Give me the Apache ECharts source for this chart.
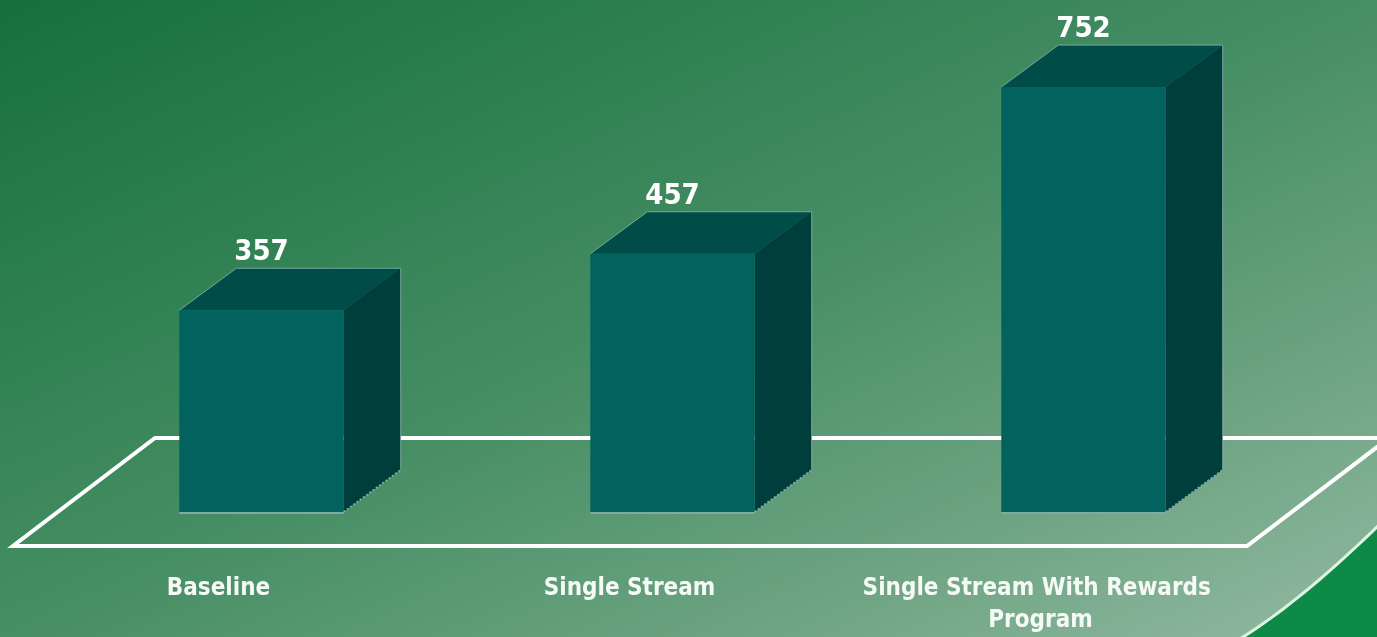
<!DOCTYPE html>
<html>
<head>
<meta charset="utf-8">
<script src="https://cdn.jsdelivr.net/npm/echarts@6/dist/echarts.min.js"></script>
<style>
  html, body { margin: 0; padding: 0; }
  #main { width: 1377px; height: 637px; }
</style>
</head>
<body>
<div id="main"></div>
<script>
var categories = ['Baseline', 'Single Stream', 'Single Stream With Rewards Program'];
var values = [357, 457, 752];

// box look
var FRONT_DX = 43, FRONT_DY = -33;   // front face sits behind the floor's front edge
var DEPTH_X = 57, DEPTH_Y = 42;      // depth of the 3D box
var FONT = '"DejaVu Sans Condensed", "Liberation Sans Narrow", sans-serif';

var myChart = echarts.init(document.getElementById('main'));

// bright corner swoosh, bottom right
var swoosh = [];
for (var k = 0; k <= 20; k++) {
  var t = k / 20;
  swoosh.push([
    (1 - t) * (1 - t) * 1238 + 2 * t * (1 - t) * 1299 + t * t * 1380,
    (1 - t) * (1 - t) * 640 + 2 * t * (1 - t) * 603 + t * t * 524
  ]);
}

function renderBox(params, api) {
  var b = api.coord([api.value(0), 0]);
  var t = api.coord([api.value(0), api.value(1)]);
  var w = api.size([1, 0])[0] * 0.4;
  var cx = b[0] + FRONT_DX;
  var x0 = cx - w / 2, x1 = cx + w / 2;
  var yb = b[1] + FRONT_DY, yt = t[1] + FRONT_DY;
  var edge = 'rgba(150,185,185,0.75)';
  return {
    type: 'group',
    children: [
      { type: 'polygon', shape: { points: [[x0, yt], [x0 + DEPTH_X, yt - DEPTH_Y], [x1 + DEPTH_X, yt - DEPTH_Y], [x1, yt]] },
        style: { fill: '#004c49' } },
      { type: 'polygon', shape: { points: [[x1, yt], [x1 + DEPTH_X, yt - DEPTH_Y], [x1 + DEPTH_X, yb - DEPTH_Y], [x1, yb]] },
        style: { fill: '#003e3c' } },
      { type: 'rect', shape: { x: x0, y: yt, width: w, height: yb - yt },
        style: { fill: '#01625e' } },
      { type: 'polyline', shape: { points: [[x0, yt], [x0 + DEPTH_X, yt - DEPTH_Y], [x1 + DEPTH_X, yt - DEPTH_Y], [x1 + DEPTH_X, yb - DEPTH_Y]] },
        style: { stroke: edge, lineWidth: 1, fill: null } },
      { type: 'line', shape: { x1: x0, y1: yb + 1, x2: x1, y2: yb + 1 },
        style: { stroke: '#80aaa8', lineWidth: 2 } },
      { type: 'line', shape: { x1: x1, y1: yb, x2: x1 + DEPTH_X, y2: yb - DEPTH_Y },
        style: { stroke: '#80aaa8', lineWidth: 2, lineDash: [2, 2] } },
      { type: 'text',
        style: { text: String(api.value(1)), x: cx, y: yt - DEPTH_Y - 1,
          align: 'center', verticalAlign: 'bottom',
          font: 'bold 29px ' + FONT, fill: '#ffffff' } }
    ]
  };
}

option = {
  animation: false,
  graphic: [
    { type: 'rect', z: -10, shape: { x: 0, y: 0, width: 1377, height: 637 },
      style: { fill: new echarts.graphic.LinearGradient(0, 0, 485, 1049, [
        { offset: 0, color: '#15703c' },
        { offset: 0.5, color: '#468e64' },
        { offset: 0.8, color: '#72a686' },
        { offset: 1, color: '#92baa2' }
      ], true) } },
    { type: 'polygon', z: -9,
      shape: { points: swoosh.concat([[1380, 640]]) },
      style: { fill: '#0d8a45' } },
    { type: 'polyline', z: -8,
      shape: { points: swoosh },
      style: { stroke: '#dff3e3', lineWidth: 3, fill: null } },
    { type: 'polygon', z: 1,
      shape: { points: [[13, 546], [1247, 546], [1389, 438], [155, 438]] },
      style: { stroke: '#ffffff', lineWidth: 4, fill: null } }
  ],
  grid: { left: 13, right: 131, top: 93, bottom: 91, containLabel: false },
  xAxis: {
    type: 'category',
    data: categories,
    axisLine: { show: false },
    axisTick: { show: false },
    axisLabel: {
      color: '#f6faf6',
      fontFamily: FONT,
      fontWeight: 'bold',
      fontSize: 24,
      lineHeight: 32,
      margin: 28,
      width: 360,
      overflow: 'break',
      interval: 0
    }
  },
  yAxis: {
    type: 'value',
    min: 0,
    max: 800,
    show: false,
    splitLine: { show: false }
  },
  series: [
    {
      type: 'custom',
      z: 10,
      clip: false,
      renderItem: renderBox,
      encode: { x: 0, y: 1 },
      data: values.map(function (v, i) { return [i, v]; })
    }
  ]
};

myChart.setOption(option);
</script>
</body>
</html>
